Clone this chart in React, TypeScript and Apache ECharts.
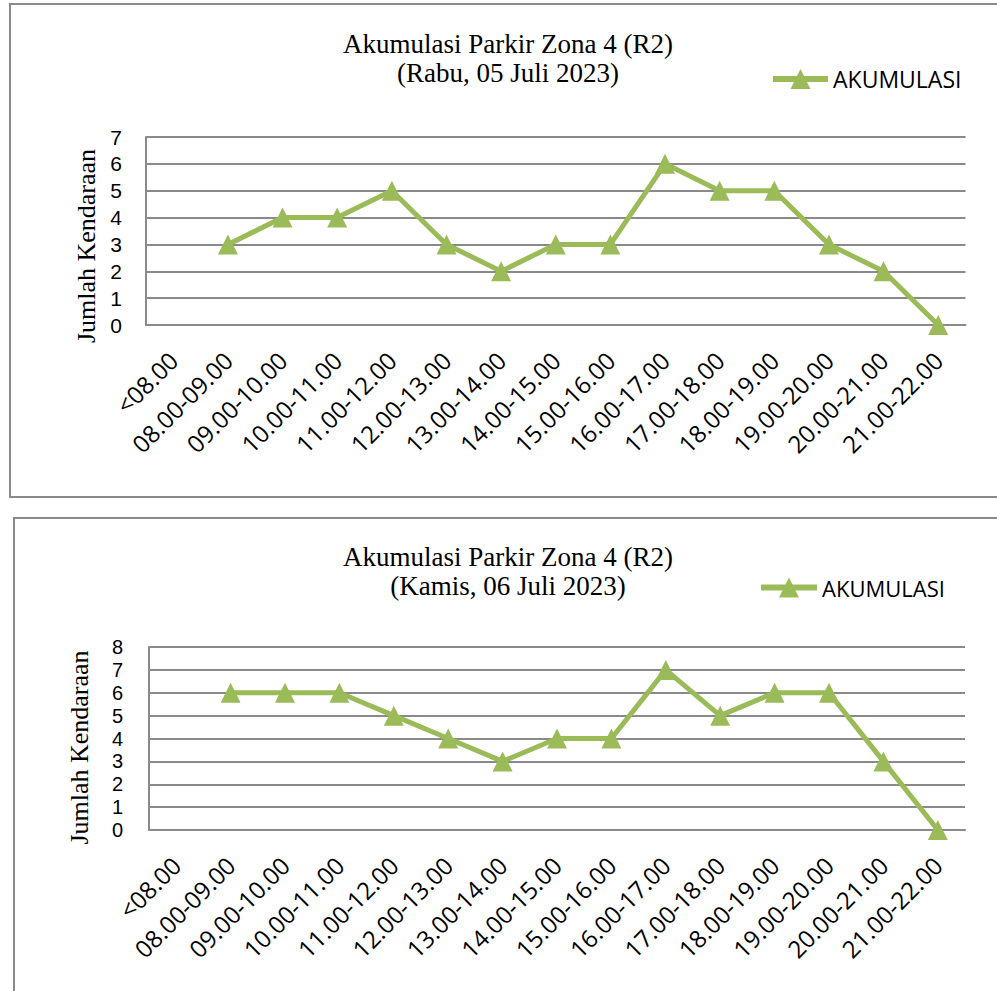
import React, { useEffect, useRef } from "react";
import * as echarts from "echarts";

const categories = [
  "<08.00",
  "08.00-09.00",
  "09.00-10.00",
  "10.00-11.00",
  "11.00-12.00",
  "12.00-13.00",
  "13.00-14.00",
  "14.00-15.00",
  "15.00-16.00",
  "16.00-17.00",
  "17.00-18.00",
  "18.00-19.00",
  "19.00-20.00",
  "20.00-21.00",
  "21.00-22.00",
];

const rabuValues = [null, 3, 4, 4, 5, 3, 2, 3, 3, 6, 5, 5, 3, 2, 0];
const kamisValues = [null, 6, 6, 6, 5, 4, 3, 4, 4, 7, 5, 6, 6, 3, 0];

const titleMain = "Akumulasi Parkir Zona 4 (R2)";
const subRabu = "(Rabu, 05 Juli 2023)";
const subKamis = "(Kamis, 06 Juli 2023)";
const seriesName = "AKUMULASI";
const yName = "Jumlah Kendaraan";

const GREEN = "#9BBB59";
const GRAY = "#8a8a8a";
const SERIF = "'Liberation Serif', 'Times New Roman', serif";
const SANS = "'Open Sans', 'Noto Sans', sans-serif";
const SANS_TIGHT = "'Liberation Sans', Arial, sans-serif";

export default function App() {
  const ref = useRef<HTMLDivElement>(null);

  useEffect(() => {
    if (!ref.current) return;
    const chart = echarts.init(ref.current, null, { renderer: "svg" });

    const xAxisCommon = (gridIndex: number) => ({
      type: "category",
      gridIndex,
      data: categories,
      boundaryGap: true,
      axisTick: { show: false },
      axisLine: { show: true, lineStyle: { color: GRAY, width: 2 } },
      axisLabel: {
        rotate: 45,
        interval: 0,
        margin: 31,
        fontFamily: SANS,
        fontSize: 24,
        color: "#000",
      },
    });

    const yAxisCommon = (
      gridIndex: number,
      max: number,
      gap: number,
      margin: number,
      shift: number,
      labelSize: number
    ) => ({
      type: "value",
      gridIndex,
      min: 0,
      max,
      interval: 1,
      name: yName,
      nameLocation: "middle",
      nameGap: gap,
      nameTextStyle: {
        fontFamily: SERIF,
        fontSize: 26,
        color: "#000",
        padding: [0, shift * 2, 0, 0],
      },
      axisLine: { show: true, lineStyle: { color: GRAY, width: 2 } },
      axisTick: { show: false },
      splitLine: { show: true, lineStyle: { color: GRAY, width: 2 } },
      axisLabel: {
        margin,
        fontFamily: SANS_TIGHT,
        fontSize: labelSize,
        lineHeight: 17,
        color: "#000",
      },
    });

    const seriesCommon = {
      type: "line",
      name: seriesName,
      symbol: "triangle",
      symbolSize: 20,
      showSymbol: true,
      lineStyle: { color: GREEN, width: 5 },
      itemStyle: { color: GREEN },
      connectNulls: false,
    };

    const legendCommon = {
      data: [seriesName],
      padding: 0,
      itemHeight: 25,
      itemGap: 5,
      lineStyle: { color: GREEN, width: 6 },
      itemStyle: { color: GREEN },
    };

    const option: any = {
      animation: false,
      backgroundColor: "#ffffff",
      graphic: [
        {
          type: "rect",
          shape: { x: 10, y: 4, width: 1000, height: 493 },
          style: { fill: "none", stroke: GRAY, lineWidth: 2 },
          silent: true,
          z: -10,
        },
        {
          type: "rect",
          shape: { x: 14, y: 518, width: 1000, height: 500 },
          style: { fill: "none", stroke: GRAY, lineWidth: 2 },
          silent: true,
          z: -10,
        },
      ],
      title: [
        {
          text: titleMain + "\n" + subRabu,
          left: 508,
          top: 29,
          padding: 0,
          textAlign: "center",
          textStyle: {
            fontFamily: SERIF,
            fontSize: 27,
            fontWeight: "normal",
            color: "#000",
            lineHeight: 29,
          },
        },
        {
          text: titleMain + "\n" + subKamis,
          left: 508,
          top: 542,
          padding: 0,
          textAlign: "center",
          textStyle: {
            fontFamily: SERIF,
            fontSize: 27,
            fontWeight: "normal",
            color: "#000",
            lineHeight: 29,
          },
        },
      ],
      legend: [
        {
          ...legendCommon,
          left: 770,
          top: 67.5,
          itemWidth: 55,
          textStyle: { fontFamily: SANS, fontSize: 23, color: "#000" },
        },
        {
          ...legendCommon,
          left: 758,
          top: 576.5,
          itemWidth: 56,
          textStyle: { fontFamily: SANS, fontSize: 22, color: "#000" },
        },
      ],
      grid: [
        { left: 146, right: 31.5, top: 137, bottom: 991 - 325, containLabel: false },
        { left: 149, right: 32, top: 647, bottom: 991 - 830, containLabel: false },
      ],
      xAxis: [xAxisCommon(0), xAxisCommon(1)],
      yAxis: [
        yAxisCommon(0, 7, 46, 24, 15, 21),
        yAxisCommon(1, 8, 57, 26, 9, 20),
      ],
      series: [
        { ...seriesCommon, xAxisIndex: 0, yAxisIndex: 0, data: rabuValues },
        { ...seriesCommon, xAxisIndex: 1, yAxisIndex: 1, data: kamisValues },
      ],
    };

    chart.setOption(option);
    return () => chart.dispose();
  }, []);

  return (
    <div
      ref={ref}
      style={{ position: "absolute", left: 0, top: 0, width: 997, height: 991 }}
    />
  );
}
